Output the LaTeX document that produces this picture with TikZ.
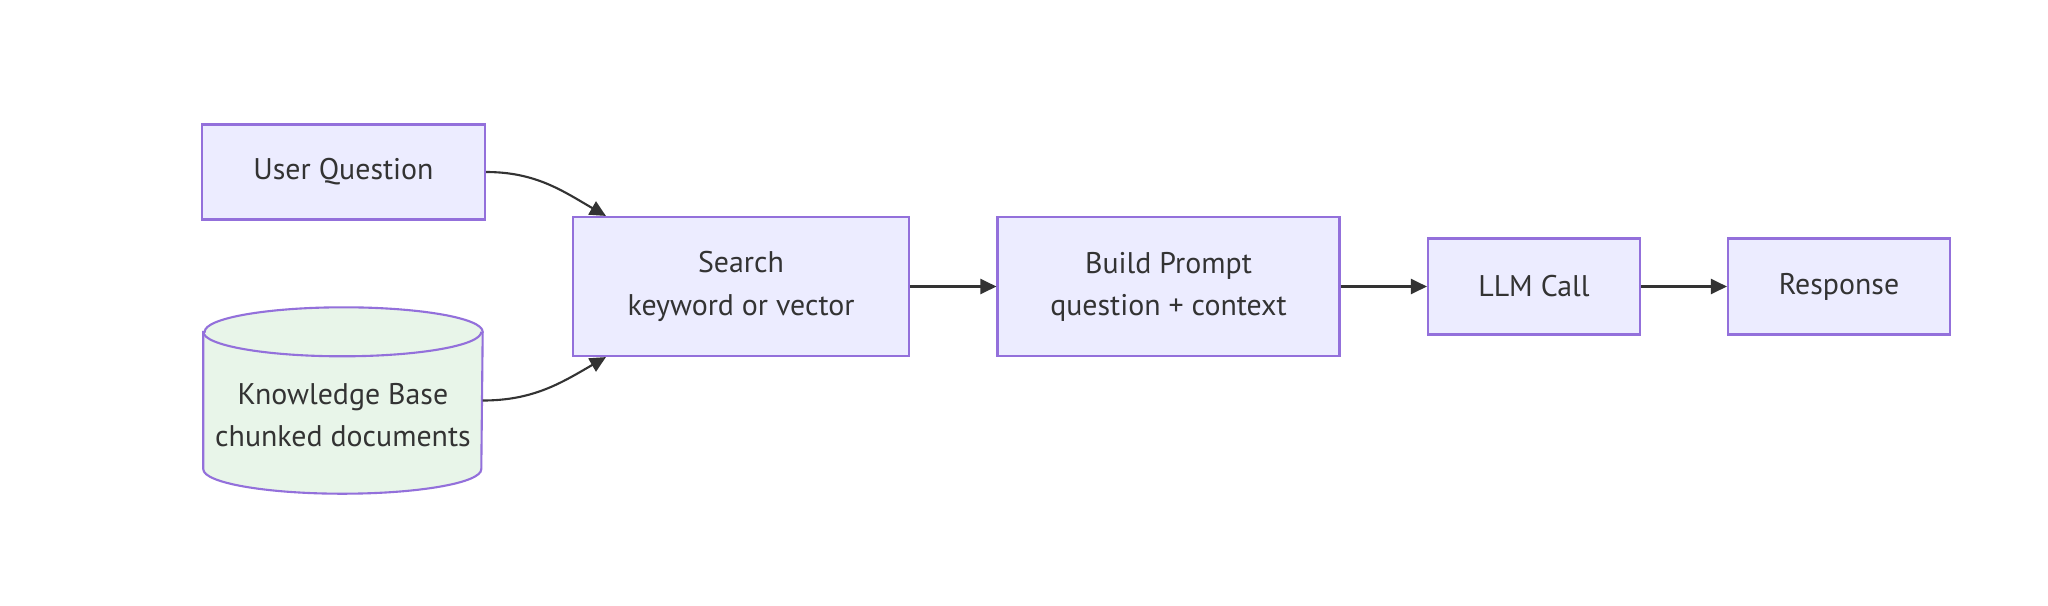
\documentclass[tikz,border=0pt]{standalone}
\usepackage{fontspec}
\setmainfont{PT Sans}
\usetikzlibrary{arrows.meta, calc}
\definecolor{mmpurple}{RGB}{147,112,219}
\definecolor{mmfill}{RGB}{236,236,255}
\definecolor{kbgreen}{RGB}{232,245,233}
\definecolor{mmdark}{RGB}{51,51,51}
\tikzset{
  stepbox/.style={rectangle, draw=mmpurple, fill=mmfill, line width=0.6pt,
    align=center, inner sep=0pt, text=mmdark, font=\fontsize{8.5}{12}\selectfont},
  cylbody/.style={rectangle, inner sep=0pt, minimum width=2.78cm, minimum height=1.85cm},
  cylline/.style={draw=mmpurple, line width=0.6pt},
  arrow/.style={-{Triangle[length=0.16cm, width=0.15cm]}, line width=0.6pt, color=mmdark}
}

\begin{document}
\begin{tikzpicture}
  \useasboundingbox[fill=white] (0,0) rectangle (20.48,6.05);

  % Inputs
  \node[stepbox, minimum width=2.83cm, minimum height=0.95cm] (question) at (3.435,4.33) {User Question};
  \node[cylbody] (kb) at (3.43,2.045) {};
  \draw[cylline, fill=kbgreen] ($(kb.north west)+(0,-0.245)$) -- ($(kb.south west)+(0,0.245)$)
    arc[start angle=180, end angle=360, x radius=1.39, y radius=0.245]
    -- ($(kb.north east)+(0,-0.245)$)
    arc[start angle=0, end angle=180, x radius=1.39, y radius=0.245] -- cycle;
  \draw[cylline] ($(kb.north west)+(0,-0.245)$) arc[start angle=180, end angle=360, x radius=1.39, y radius=0.245];
  \node[align=center, text=mmdark, font=\fontsize{8.5}{12}\selectfont] (kbtext) at ($(kb.center)+(0,-0.15)$) {Knowledge Base\\chunked documents};

  % Pipeline
  \node[stepbox, minimum width=3.36cm, minimum height=1.39cm] (search) at (7.41,3.185) {Search\\keyword or vector};
  \node[stepbox, minimum width=3.42cm, minimum height=1.39cm] (prompt) at (11.685,3.185) {Build Prompt\\question + context};
  \node[stepbox, minimum width=2.12cm, minimum height=0.96cm] (llm) at (15.34,3.185) {LLM Call};
  \node[stepbox, minimum width=2.22cm, minimum height=0.96cm] (response) at (18.39,3.185) {Response};

  % Connections
  \coordinate (searchtop) at ($(search.north west)+(0.34,0)$);
  \coordinate (searchbot) at ($(search.south west)+(0.34,0)$);
  \draw[arrow] (question.east) to[out=0, in=150] (searchtop);
  \draw[arrow] (kb.east) to[out=0, in=210] (searchbot);
  \draw[arrow] (search) -- (prompt);
  \draw[arrow] (prompt) -- (llm);
  \draw[arrow] (llm) -- (response);
\end{tikzpicture}
\end{document}
